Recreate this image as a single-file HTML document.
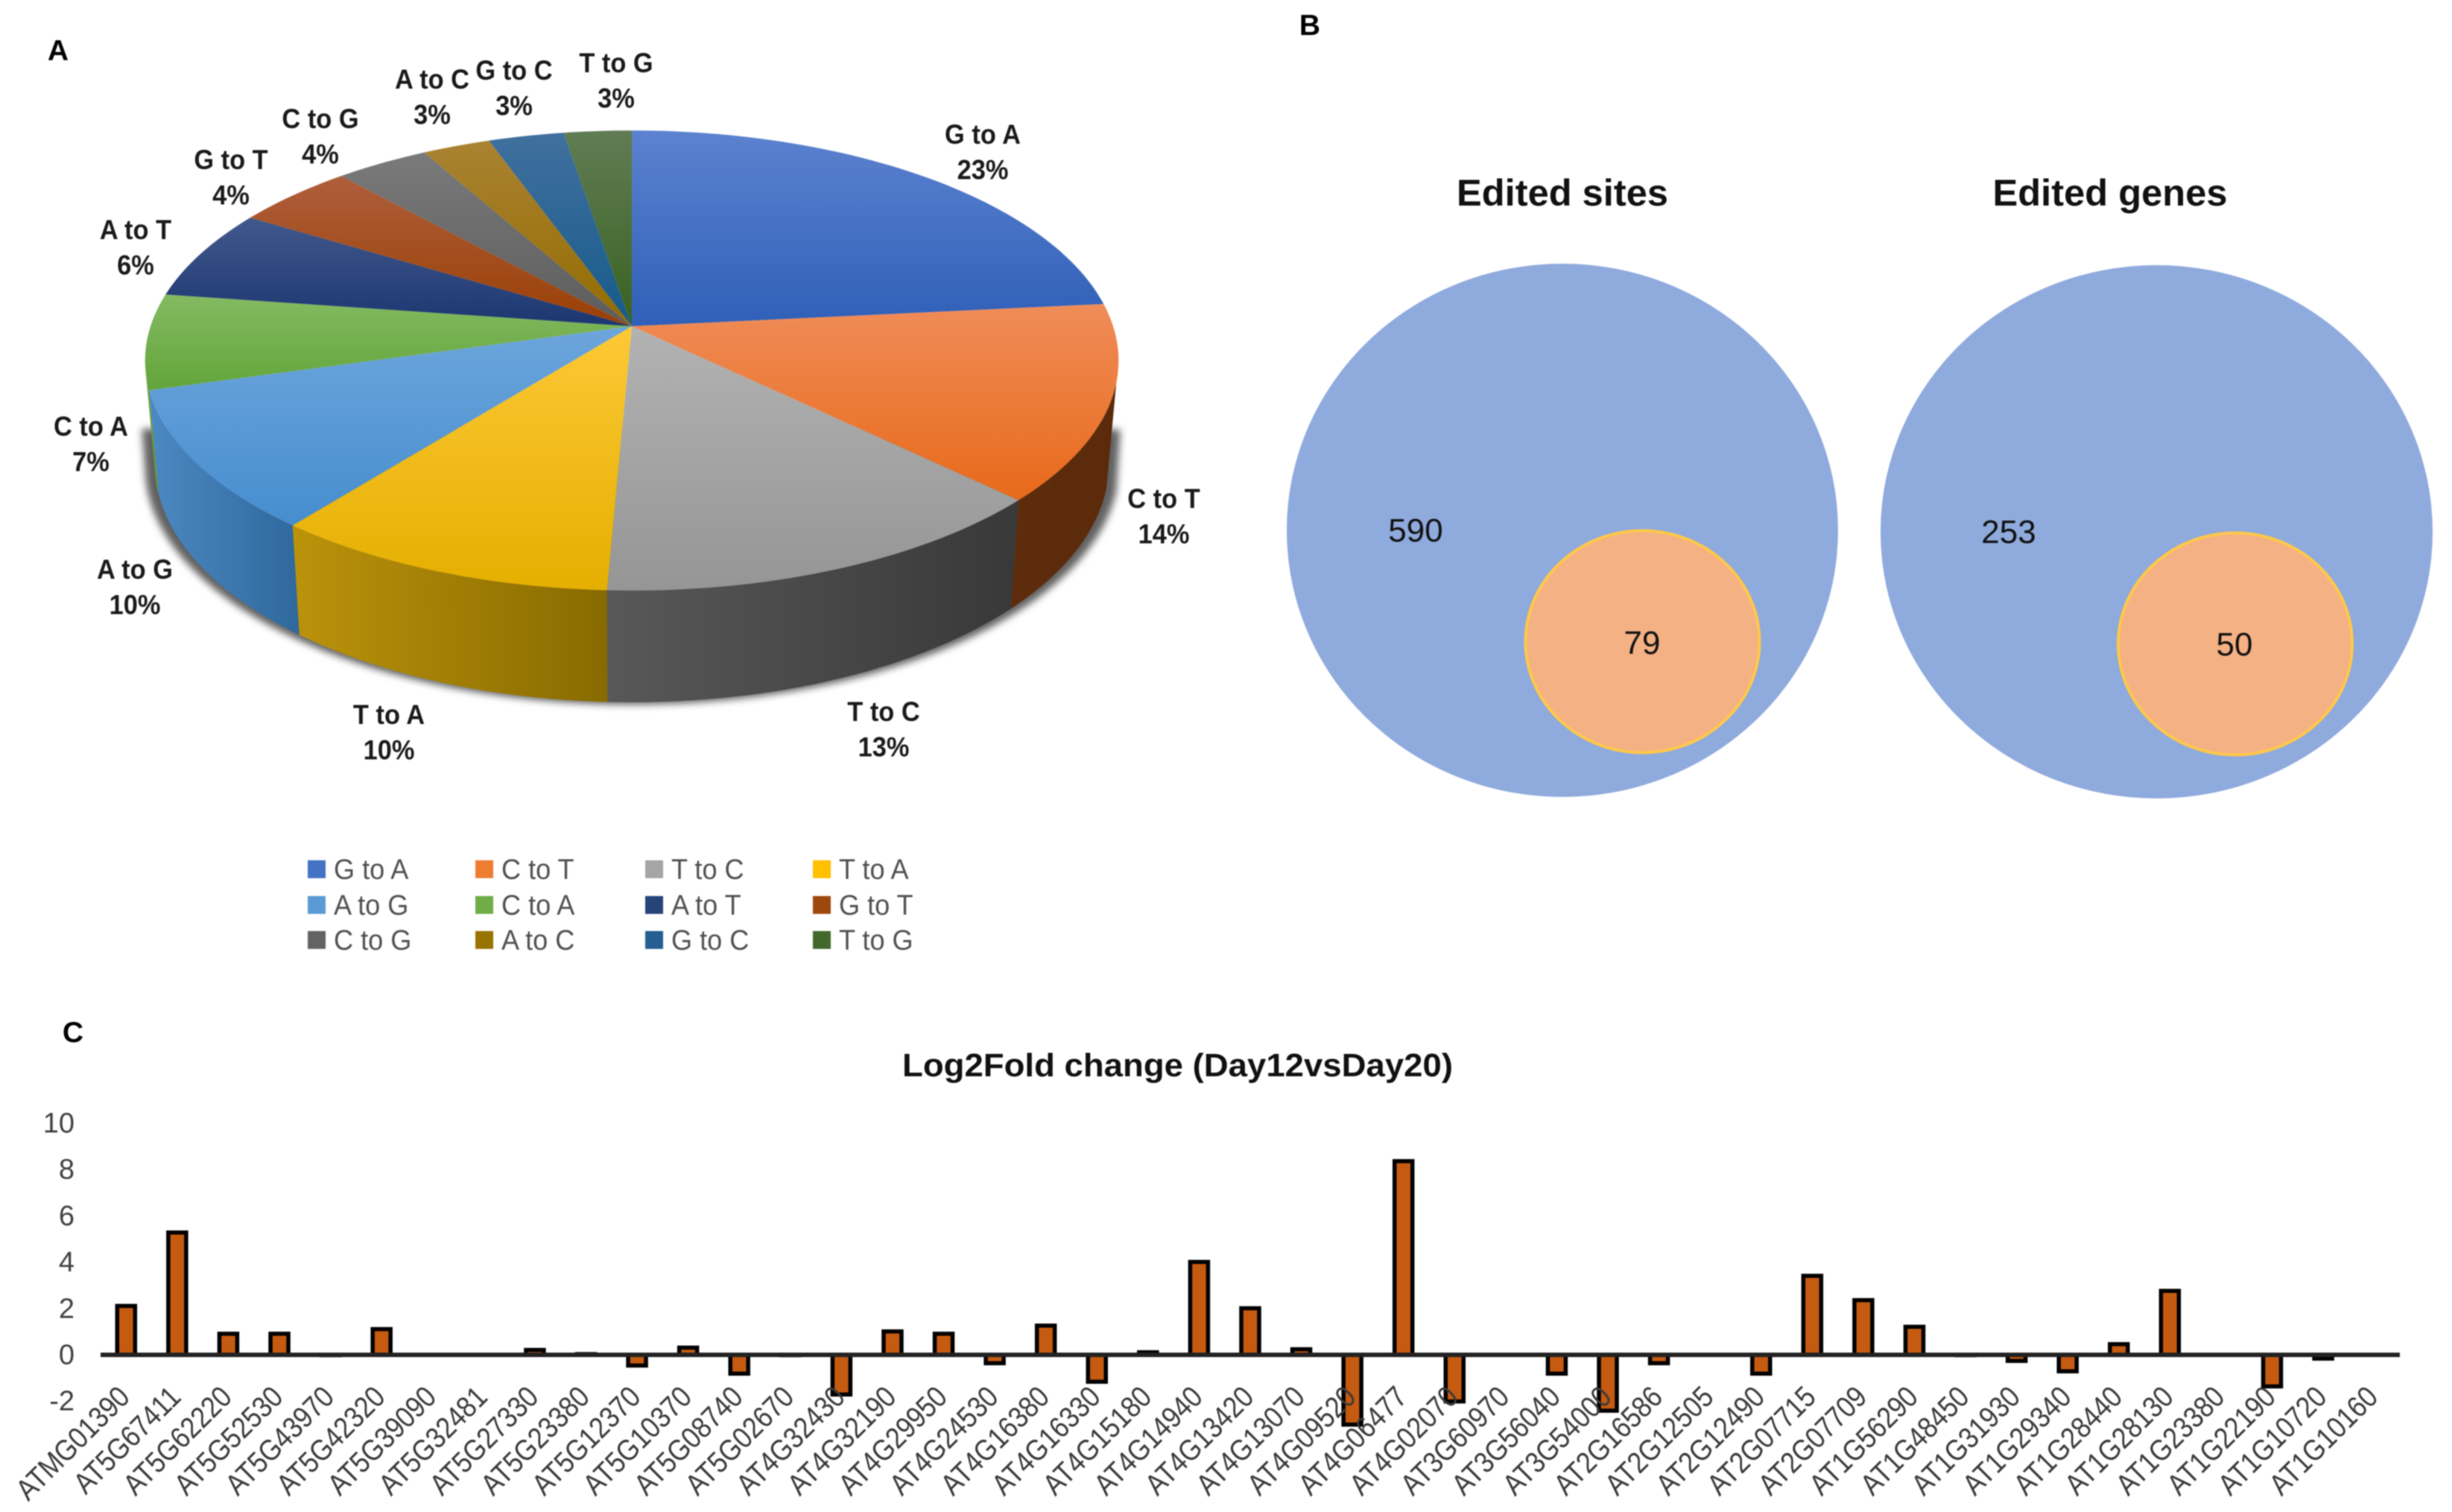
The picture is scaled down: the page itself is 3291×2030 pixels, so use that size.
<!DOCTYPE html>
<html lang="en">
<head>
<meta charset="utf-8">
<title>RNA editing figure</title>
<style>
  html,body{margin:0;padding:0;background:#fff;width:3291px;height:2030px;overflow:hidden}
  svg{display:block;filter:blur(0.9px)}
  text{font-family:"Liberation Sans",sans-serif}
</style>
</head>
<body>
<svg id="figure" xmlns="http://www.w3.org/2000/svg" width="3291" height="2030" viewBox="0 0 3291 2030">
  <defs>
    <filter id="pieShadow" x="-10%" y="-10%" width="120%" height="130%"><feGaussianBlur stdDeviation="5"/></filter>
  </defs>
  <rect x="0" y="0" width="3291" height="2030" fill="#ffffff"/>

  <text x="78" y="81" font-size="39" font-weight="bold" text-anchor="middle" fill="#000">A</text>
  <text x="1758" y="47" font-size="39" font-weight="bold" text-anchor="middle" fill="#000">B</text>
  <text x="98" y="1399" font-size="39" font-weight="bold" text-anchor="middle" fill="#000">C</text>

  <g id="pie"></g>
  <g id="pieLabels"></g>
  <g id="pieLegend"></g>

  <g>
    <text x="2097" y="276" font-size="50" font-weight="bold" text-anchor="middle" textLength="284" lengthAdjust="spacingAndGlyphs" fill="#111">Edited sites</text>
    <text x="2832" y="276" font-size="50" font-weight="bold" text-anchor="middle" textLength="315" lengthAdjust="spacingAndGlyphs" fill="#111">Edited genes</text>
    <ellipse cx="2097" cy="712" rx="370" ry="358" fill="#8faadc"/>
    <ellipse cx="2204.5" cy="861.5" rx="157" ry="149" fill="#f4b183" stroke="#ffc84a" stroke-width="4"/>
    <ellipse cx="2894.5" cy="714" rx="370.5" ry="358" fill="#8faadc"/>
    <ellipse cx="3000" cy="864.5" rx="157" ry="149" fill="#f4b183" stroke="#ffc84a" stroke-width="4"/>
    <text x="1900" y="727" font-size="44" text-anchor="middle" fill="#111">590</text>
    <text x="2204" y="878" font-size="44" text-anchor="middle" fill="#111">79</text>
    <text x="2696" y="729" font-size="44" text-anchor="middle" fill="#111">253</text>
    <text x="2999" y="880" font-size="44" text-anchor="middle" fill="#111">50</text>
  </g>

  <text x="1580.5" y="1445" font-size="44" font-weight="bold" text-anchor="middle" textLength="739" lengthAdjust="spacingAndGlyphs" fill="#111">Log2Fold change (Day12vsDay20)</text>
  <g id="bars"></g>
</svg>

<script>
/* ---------- pie data ---------- */
const sliceNames = ["G to A","C to T","T to C","T to A","A to G","C to A","A to T","G to T","C to G","A to C","G to C","T to G"];
const sliceShares = [23.4,13.8,13.5,10.0,9.9,6.7,6.4,4.6,3.6,2.6,2.9,2.6];
const slicePercents = ["23%","14%","13%","10%","10%","7%","6%","4%","4%","3%","3%","3%"];

/* pie palette and label layout (style only) */
const topLight = ["#5c82cf","#ef8c58","#b2b2b2","#fdc835","#6ca5db","#84ba62","#41588c","#ae5e3c","#7a7a7a","#aa8232","#41709e","#617c54"];
const topDark  = ["#2f5fb8","#e8691a","#959595","#e4af00","#468dcf","#62a53a","#1b3670","#9a3f04","#5c5c5c","#926c00","#155a8a","#386220"];
const sideLeft = ["#24468a","#5c2c0c","#585858","#bb920a","#4c88c2","#64a03e","#1c3268","#703008","#484848","#705400","#1b4468","#304c1e"];
const sideRight= ["#24468a","#5a2a0a","#383838","#876a00","#2e689c","#64a03e","#1c3268","#703008","#484848","#705400","#1b4468","#304c1e"];
const legendSwatch = ["#4472c4","#ed7d31","#a5a5a5","#ffc000","#5b9bd5","#70ad47","#264478","#9e480e","#636363","#997300","#255e91","#43682b"];
const labelLayout = [[1319,180],[1562,669],[1186,955],[522,959],[181,764],[122,572],[182,308],[310,214],[430,159],[580,106],[690,94],[827,84]];

/* ---------- bar chart data ---------- */
const geneIds = ["ATMG01390","AT5G67411","AT5G62220","AT5G52530","AT5G43970","AT5G42320","AT5G39090","AT5G32481","AT5G27330","AT5G23380","AT5G12370","AT5G10370","AT5G08740","AT5G02670","AT4G32430","AT4G32190","AT4G29950","AT4G24530","AT4G16380","AT4G16330","AT4G15180","AT4G14940","AT4G13420","AT4G13070","AT4G09520","AT4G06477","AT4G02070","AT3G60970","AT3G56040","AT3G54000","AT2G16586","AT2G12505","AT2G12490","AT2G07715","AT2G07709","AT1G56290","AT1G48450","AT1G31930","AT1G29340","AT1G28440","AT1G28130","AT1G23380","AT1G22190","AT1G10720","AT1G10160"];
const log2Fold = [2.2,5.37,1.0,1.0,0.03,1.2,0,0,0.3,0.12,-0.55,0.4,-0.9,0.03,-1.8,1.1,1.0,-0.45,1.35,-1.25,0.2,4.1,2.1,0.33,-3.1,8.45,-2.1,0,-0.9,-2.5,-0.45,0,-0.9,3.5,2.45,1.3,-0.08,-0.35,-0.8,0.55,2.85,0,-1.45,-0.25,0];
const yTicks = [10,8,6,4,2,0,-2];

const NS = "http://www.w3.org/2000/svg";
function make(tag, attrs, parent){
  const el = document.createElementNS(NS, tag);
  for (const k in attrs) el.setAttribute(k, attrs[k]);
  parent.appendChild(el);
  return el;
}
function slug(s){ return s.toLowerCase().replace(/\s+/g,'-'); }

/* ---------- pie geometry ---------- */
const PIE = {cx:848, ay:438, A:302, B:646, k:0.149, frontY:793, bottomY:943, sx:0.98, sy:1.035, sideFrom:104, sideTo:258};
function rimTop(deg){
  const t = deg*Math.PI/180, X = Math.sin(t), Y = -Math.cos(t), w = 1 - PIE.k*Y;
  return [PIE.cx + PIE.B*X/w, PIE.ay + PIE.A*Y/w];
}
function rimBottom(deg){
  const p = rimTop(deg);
  return [PIE.cx + PIE.sx*(p[0]-PIE.cx), PIE.bottomY + PIE.sy*(p[1]-PIE.frontY)];
}
function arc(fn, a, b){
  const pts = [], n = Math.max(2, Math.ceil(Math.abs(b-a)/1.5));
  for (let i=0;i<=n;i++){ const p = fn(a+(b-a)*i/n); pts.push(p[0].toFixed(1)+','+p[1].toFixed(1)); }
  return pts;
}
function gradient(id, horizontal, c1, c2){
  const defs = document.querySelector('defs');
  const g = make('linearGradient',{id:id,x1:0,y1:0,x2:horizontal?1:0,y2:horizontal?0:1},defs);
  make('stop',{offset:'0','stop-color':c1},g);
  make('stop',{offset:'1','stop-color':c2},g);
}

const pie = document.getElementById('pie');
const totalShare = sliceShares.reduce((a,b)=>a+b,0);
const sliceAngles = [];
let running = 0;
sliceShares.forEach(function(v){
  const a = running/totalShare*360;
  running += v;
  sliceAngles.push([a, running/totalShare*360]);
});

/* shadow under the disc: only the lower rim casts it, starting below the widest point */
const rimR = rimTop(PIE.sideFrom), rimL = rimTop(PIE.sideTo);
const shadowPts = arc(rimBottom,PIE.sideFrom,PIE.sideTo).concat([(rimL[0]+8)+','+(rimL[1]+70),(rimR[0]-8)+','+(rimR[1]+60)]);
const shadow = make('polygon',{points:shadowPts.join(' '),fill:'#000','fill-opacity':0.62,filter:'url(#pieShadow)',transform:'translate('+PIE.cx+',3) scale(1.021,1) translate('+(-PIE.cx)+',0)'},pie);



/* side walls */
sliceAngles.forEach(function(r,i){
  const a = Math.max(r[0],PIE.sideFrom), b = Math.min(r[1],PIE.sideTo);
  if (b<=a) return;
  gradient('side'+i,true,sideLeft[i],sideRight[i]);
  const pts = arc(rimTop,a,b).concat(arc(rimBottom,b,a));
  const side = make('polygon',{points:pts.join(' '),fill:'url(#side'+i+')'},pie);
  
  
});

/* top faces */
sliceAngles.forEach(function(r,i){
  gradient('top'+i,false,topLight[i],topDark[i]);
  const pts = [PIE.cx+','+PIE.ay].concat(arc(rimTop,r[0],r[1]));
  const slice = make('polygon',{points:pts.join(' '),fill:'url(#top'+i+')'},pie);
  
  
});

/* pie labels */
const pieLabels = document.getElementById('pieLabels');
sliceNames.forEach(function(name,i){
  const x = labelLayout[i][0], y = labelLayout[i][1];
  const t1 = make('text',{transform:'translate('+x+','+(y+13)+') scale(.93,1)','font-size':37,'font-weight':'bold','text-anchor':'middle',fill:'#1a1a1a'},pieLabels);
  t1.textContent = name;
  
  
  const t2 = make('text',{transform:'translate('+x+','+(y+60.5)+') scale(.93,1)','font-size':37,'font-weight':'bold','text-anchor':'middle',fill:'#1a1a1a'},pieLabels);
  t2.textContent = slicePercents[i];
  
  
});

/* legend */
const legend = document.getElementById('pieLegend');
const legendCols = [425,650,878,1103];
const legendRows = [1167,1215,1262];
sliceNames.forEach(function(name,i){
  const col = i%4, row = Math.floor(i/4);
  const g = make('g',{},legend);
  
  
  const sw = make('rect',{x:legendCols[col]-12,y:legendRows[row]-12,width:24,height:24,fill:legendSwatch[i]},g);
  
  
  const t = make('text',{transform:'translate('+(legendCols[col]+23)+','+(legendRows[row]+13)+') scale(.95,1)','font-size':38,fill:'#505050'},g);
  t.textContent = name;
  
  
});

/* ---------- bar chart ---------- */
const bars = document.getElementById('bars');
const plot = {x0:135, x1:3221, zeroY:1819, unit:31.1};
function xBand(i){ return plot.x0 + (i+0.5)*(plot.x1-plot.x0)/geneIds.length; }
function yVal(v){ return plot.zeroY - v*plot.unit; }

yTicks.forEach(function(v){
  const t = make('text',{x:100,y:yVal(v)+12.5,'font-size':38,'text-anchor':'end',fill:'#404040'},bars);
  t.textContent = String(v);
  
  
});

log2Fold.forEach(function(v,i){
  if (v===0) return;
  const cx = xBand(i), half = 12, sw = 5.5;
  const yv = yVal(v), inset = sw/2;
  const top = v>0 ? yv+inset : plot.zeroY;
  const bot = v>0 ? plot.zeroY : yv-inset;
  const h = Math.max(0.5, bot-top);
  const r = make('rect',{x:cx-half,y:Math.min(top,plot.zeroY),width:half*2,height:h,fill:'#c55a11',stroke:'#000','stroke-width':sw},bars);
  
  
});

const axis = make('line',{x1:plot.x0,x2:plot.x1,y1:plot.zeroY,y2:plot.zeroY,stroke:'#222','stroke-width':6},bars);



geneIds.forEach(function(id,i){
  const ax = xBand(i)+7, ay = 1878;
  const t = make('text',{transform:'translate('+ax+','+ay+') rotate(-45) scale(.875,1)','font-size':40,'text-anchor':'end',fill:'#3a3a3a'},bars);
  t.textContent = id;
  
  
});
</script>
</body>
</html>
